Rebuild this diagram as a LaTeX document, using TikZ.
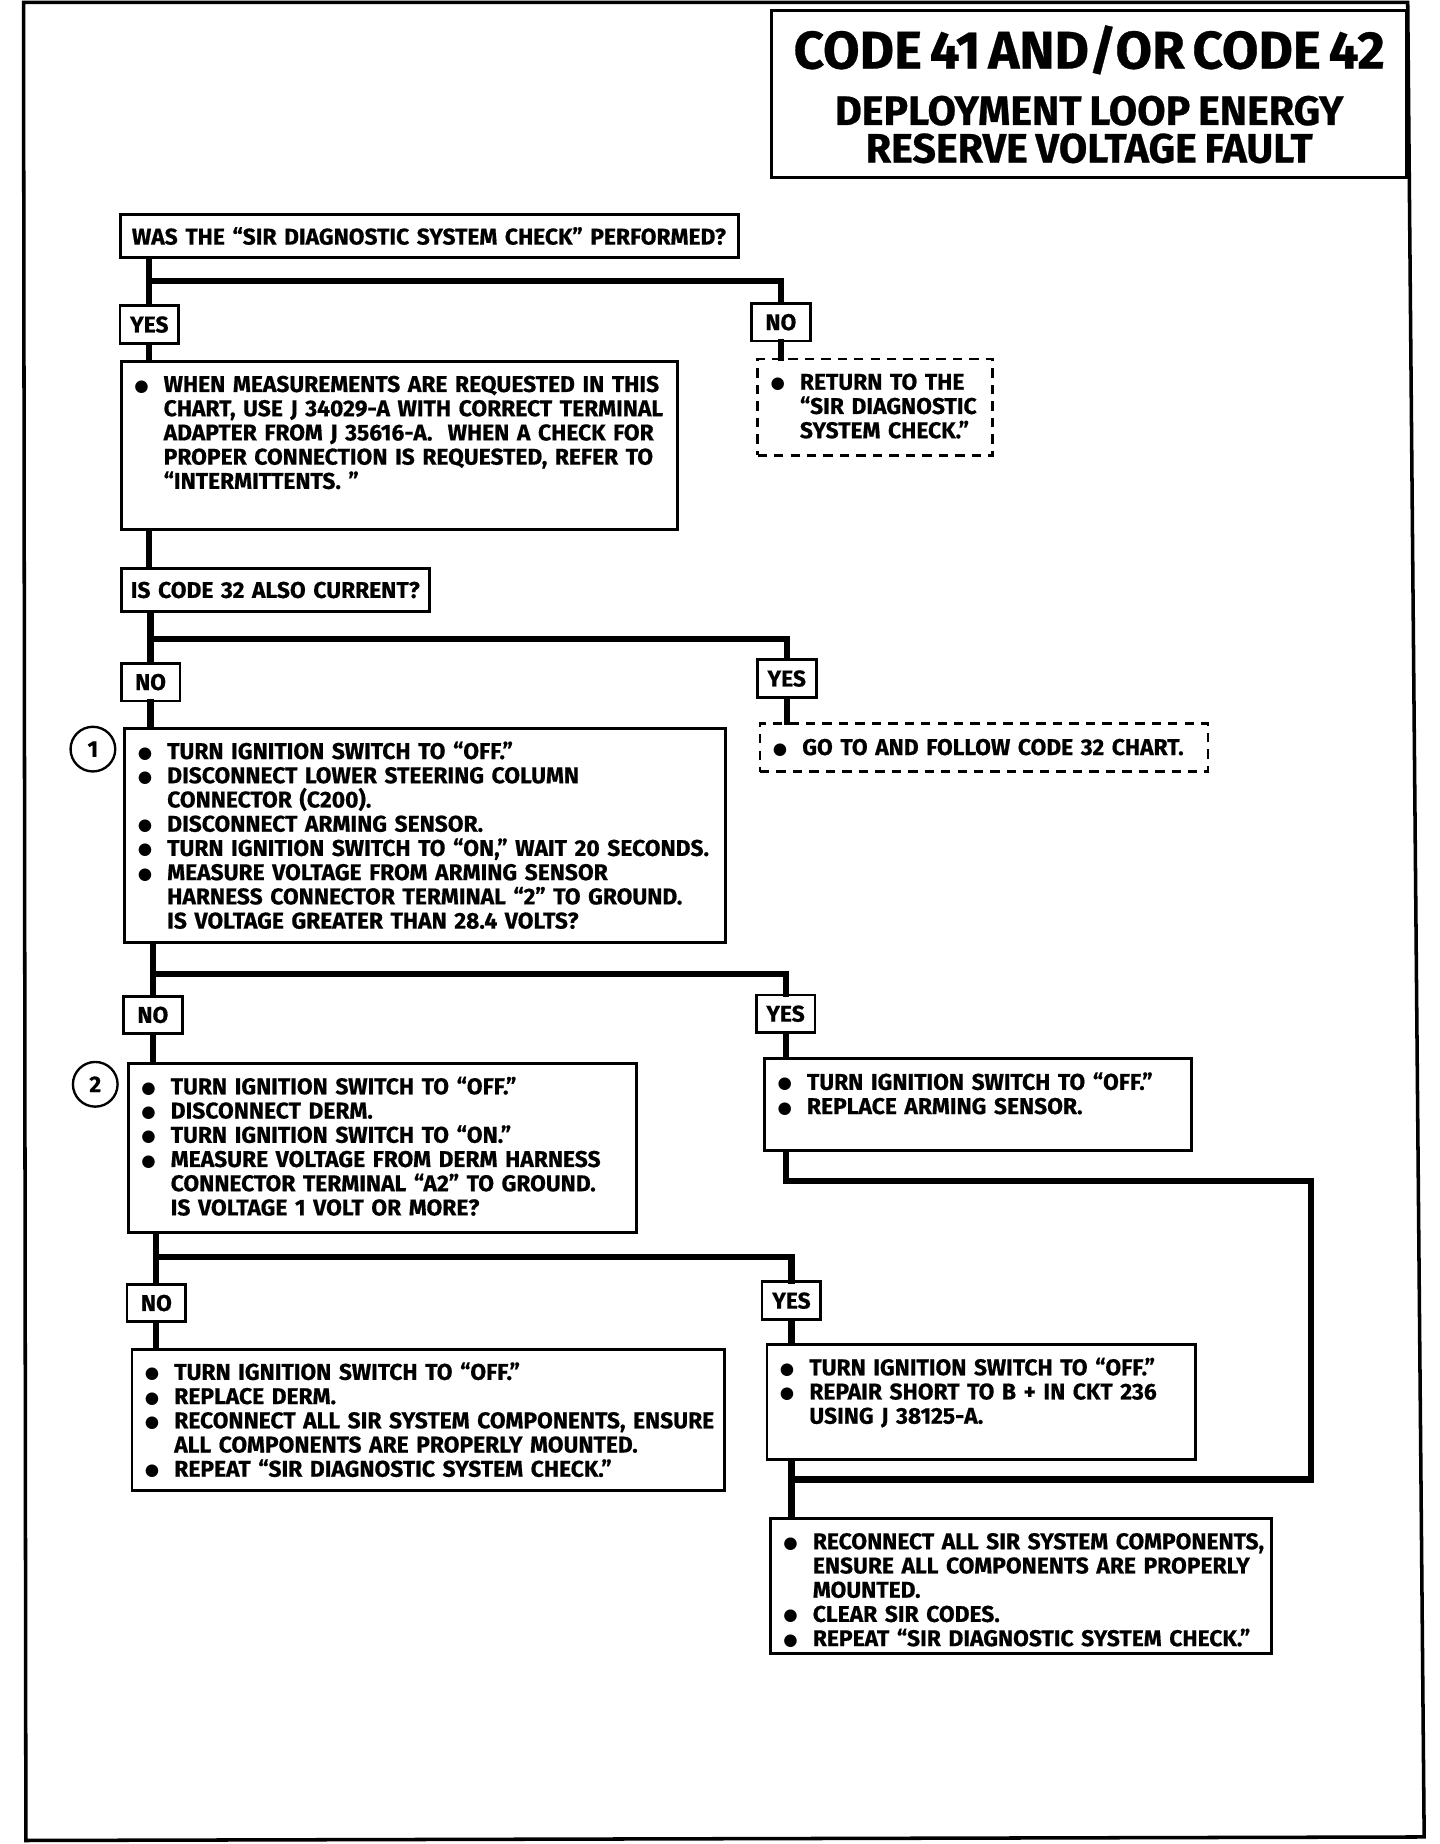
\documentclass[tikz,border=0pt]{standalone}
\usepackage{fontspec}
\setmainfont{Fira Sans}[BoldFeatures={FakeBold=0.6}]
\newfontfamily\dotfont{DejaVu Sans}
\usetikzlibrary{positioning}

\newcommand{\bitem}[1]{\par\noindent\makebox[12.5pt][l]{\raisebox{0.4pt}{\dotfont\fontsize{7pt}{7pt}\selectfont ●}}\mbox{#1}}
\newcommand{\bcont}[1]{\par\noindent\hspace*{12.5pt}\mbox{#1}}
\newcommand{\lowpad}[1]{\rule[-#1]{0pt}{#1}}

\begin{document}
\begin{tikzpicture}[x=0.5pt,y=-0.5pt,
  chart/.style={font=\bfseries\fontsize{9.7pt}{10.3pt}\selectfont},
  stepbox/.style={chart,draw,line width=1.2pt,anchor=north west,align=left,inner xsep=5.5pt,inner ysep=2.5pt},
  skipbox/.style={stepbox,dash pattern=on 4pt off 3pt},
  answer/.style={chart,draw,line width=1.2pt,minimum width=25pt,minimum height=16pt,inner sep=2pt},
  stepnum/.style={chart,draw,circle,line width=1pt,minimum size=19pt,inner sep=0pt},
  conn/.style={line width=2.6pt,line cap=rect}
]
\useasboundingbox (0,0) rectangle (1224,1568);
\draw[line width=1.5pt] (20,2) -- (1197,2) -- (1211,1562) -- (22,1565) -- cycle;

\node[draw,line width=1.2pt,anchor=north west,text width=262pt,inner sep=4pt,minimum height=71pt,align=center,font=\bfseries] (title) at (655,8)
  {\fontsize{22.5pt}{24pt}\selectfont CODE 41 AND/OR CODE 42\par\vspace{8pt}
   \fontsize{17.5pt}{16pt}\selectfont DEPLOYMENT LOOP ENERGY\par RESERVE VOLTAGE FAULT\par};

% first question
\node[stepbox,text width=253pt,inner xsep=5pt,inner ysep=4pt,minimum height=18.5pt] (q1) at (101,181)
  {\mbox{WAS THE ``SIR DIAGNOSTIC SYSTEM CHECK'' PERFORMED?}};
\node[answer] (yes1) at (127,276) {YES};
\node[answer] (no1) at (664,274) {NO};
\node[stepbox,text width=225.5pt,minimum height=71.5pt] (a1) at (102,306)
  {\bitem{WHEN MEASUREMENTS ARE REQUESTED IN THIS}
   \bcont{CHART, USE J 34029-A WITH CORRECT TERMINAL}
   \bcont{ADAPTER FROM J 35616-A.\ \ WHEN A CHECK FOR}
   \bcont{PROPER CONNECTION IS REQUESTED, REFER TO}
   \bcont{``INTERMITTENTS.\ ''\lowpad{14.5pt}}};
\node[skipbox,text width=89pt,minimum height=41pt] (n1) at (643,304)
  {\bitem{RETURN TO THE}\bcont{``SIR DIAGNOSTIC}\bcont{SYSTEM CHECK.''\lowpad{4.5pt}}};

% code 32
\node[stepbox,text width=123pt,inner xsep=4pt,inner ysep=4pt,minimum height=18.5pt] (q2) at (102,482)
  {\mbox{IS CODE 32 ALSO CURRENT?}};
\node[answer] (no2) at (128,580) {NO};
\node[answer] (yes2) at (669,577) {YES};
\node[skipbox,text width=179.5pt,minimum height=20.5pt] (c32) at (645,614)
  {\bitem{GO TO AND FOLLOW CODE 32 CHART.\lowpad{4pt}}};

% step 1
\node[stepbox,text width=244.5pt,minimum height=91pt] (s1) at (105,618)
  {\bitem{TURN IGNITION SWITCH TO ``OFF.''}
   \bitem{DISCONNECT LOWER STEERING COLUMN}
   \bcont{CONNECTOR (C200).}
   \bitem{DISCONNECT ARMING SENSOR.}
   \bitem{TURN IGNITION SWITCH TO ``ON,'' WAIT 20 SECONDS.}
   \bitem{MEASURE VOLTAGE FROM ARMING SENSOR}
   \bcont{HARNESS CONNECTOR TERMINAL ``2'' TO GROUND.}
   \bcont{IS VOLTAGE GREATER THAN 28.4 VOLTS?\lowpad{3pt}}};
\node[stepnum] (n1c) at (79,637) {1};
\node[answer] (no3) at (130,863) {NO};
\node[answer] (yes3) at (668,862) {YES};
\node[stepbox,text width=170.5pt,minimum height=39pt] (r1) at (649,899)
  {\bitem{TURN IGNITION SWITCH TO ``OFF.''}
   \bitem{REPLACE ARMING SENSOR.\lowpad{12.5pt}}};

% step 2
\node[stepbox,text width=205pt,minimum height=72pt] (s2) at (108,903)
  {\bitem{TURN IGNITION SWITCH TO ``OFF.''}
   \bitem{DISCONNECT DERM.}
   \bitem{TURN IGNITION SWITCH TO ``ON.''}
   \bitem{MEASURE VOLTAGE FROM DERM HARNESS}
   \bcont{CONNECTOR TERMINAL ``A2'' TO GROUND.}
   \bcont{IS VOLTAGE 1 VOLT OR MORE?\lowpad{4.5pt}}};
\node[stepnum] (n2c) at (81,922) {2};
\node[answer] (no4) at (133,1108) {NO};
\node[answer] (yes4) at (673,1106) {YES};
\node[stepbox,text width=241pt,minimum height=60pt] (r2) at (111,1146)
  {\bitem{TURN IGNITION SWITCH TO ``OFF.''}
   \bitem{REPLACE DERM.}
   \bitem{RECONNECT ALL SIR SYSTEM COMPONENTS, ENSURE}
   \bcont{ALL COMPONENTS ARE PROPERLY MOUNTED.}
   \bitem{REPEAT ``SIR DIAGNOSTIC SYSTEM CHECK.''\lowpad{3pt}}};
\node[stepbox,text width=171pt,minimum height=49pt] (r3) at (651,1142)
  {\bitem{TURN IGNITION SWITCH TO ``OFF.''}
   \bitem{REPAIR SHORT TO B + IN CKT 236}
   \bcont{USING J 38125-A.\lowpad{12.5pt}}};
\node[stepbox,text width=202pt,minimum height=57.5pt] (fin) at (654,1290)
  {\bitem{RECONNECT ALL SIR SYSTEM COMPONENTS,}
   \bcont{ENSURE ALL COMPONENTS ARE PROPERLY}
   \bcont{MOUNTED.}
   \bitem{CLEAR SIR CODES.}
   \bitem{REPEAT ``SIR DIAGNOSTIC SYSTEM CHECK.''}};

% branch points
\coordinate (j1) at (127,239);
\coordinate (j2) at (128,543);
\coordinate (j3) at (130,828);
\coordinate (j4) at (133,1069);
\coordinate (k1) at (1115,1004);
\coordinate (k2) at (1115,1258);

\draw[conn] (yes1.north |- q1.south) -- (yes1.north);
\draw[conn] (j1) -| (no1.north);
\draw[conn] (yes1.south) -- (yes1.south |- a1.north);
\draw[conn] (no1.south) -- (no1.south |- n1.north);
\draw[conn] (yes1.south |- a1.south) -- (yes1.south |- q2.north);

\draw[conn] (no2.north |- q2.south) -- (no2.north);
\draw[conn] (j2) -| (yes2.north);
\draw[conn] (no2.south) -- (no2.south |- s1.north);
\draw[conn] (yes2.south) -- (yes2.south |- c32.north);

\draw[conn] (no3.north |- s1.south) -- (no3.north);
\draw[conn] (j3) -| (yes3.north);
\draw[conn] (no3.south) -- (no3.south |- s2.north);
\draw[conn] (yes3.south) -- (yes3.south |- r1.north);

\draw[conn] (no4.north |- s2.south) -- (no4.north);
\draw[conn] (j4) -| (yes4.north);
\draw[conn] (no4.south) -- (no4.south |- r2.north);
\draw[conn] (yes4.south) -- (yes4.south |- r3.north);

\draw[conn] (yes4.south |- r3.south) -- (yes4.south |- fin.north);
\draw[conn] (yes3.south |- r1.south) |- (k1) -- (k2) -- (yes4.south |- k2);
\end{tikzpicture}
\end{document}
